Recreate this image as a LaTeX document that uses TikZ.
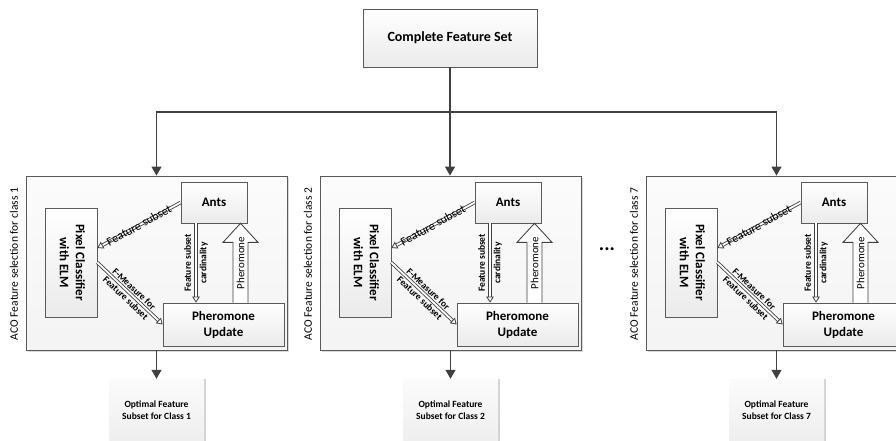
\documentclass[tikz,border=0pt]{standalone}
\usepackage{fontspec}
\setmainfont{Carlito}
\usetikzlibrary{arrows.meta,calc,shadows}

\definecolor{wiregray}{HTML}{404040}
\definecolor{framegray}{HTML}{5A5A5A}

\tikzset{
  shade box/.style={draw=framegray,line width=0.7pt,top color=white,bottom color=gray!16,
    drop shadow={shadow xshift=1.3pt,shadow yshift=-1.3pt,opacity=0.3},
    inner sep=0pt,align=center,font=\bfseries\fontsize{13}{16}\selectfont},
  panelbox/.style={draw=framegray,line width=0.8pt,top color=gray!3,bottom color=gray!9,
    drop shadow={shadow xshift=1.5pt,shadow yshift=-1.5pt,opacity=0.3},inner sep=0pt},
  outbox/.style={top color=gray!3,bottom color=gray!13,inner sep=0pt,
    drop shadow={shadow xshift=1.5pt,shadow yshift=0pt,opacity=0.35},
    align=center,font=\bfseries\fontsize{9.5}{11.5}\selectfont},
  wire/.style={draw=wiregray,line width=1.2pt},
  flow/.style={wire,-{Triangle[length=9pt,width=10pt]}},
  hollow/.style={draw=wiregray,line width=0.85pt,double=white,double distance=1.8pt,
    -{Triangle[open,fill=white,length=6pt,width=7.5pt,line width=0.8pt]}},
  blockline/.style={draw=wiregray,line width=0.85pt,fill=white,line join=miter},
  smalltext/.style={font=\bfseries\fontsize{9.5}{12.5}\selectfont,align=center},
}

\begin{document}
\begin{tikzpicture}[x=1pt,y=-1pt]
\useasboundingbox (0,0) rectangle (896,441);
\clip (0,0) rectangle (896,441);

\node[shade box,minimum width=174pt,minimum height=58pt,font=\bfseries\fontsize{14}{16}\selectfont] (top) at (450,38) {Complete Feature Set};

% one ACO block per class
\foreach \px/\cls in {26/1,320/2,646/7}{
\begin{scope}[xshift=\px pt]
\node[panelbox,minimum width=261pt,minimum height=174pt] (panel\cls) at (130.5,263) {};
\node[rotate=90,font=\fontsize{11.5}{13}\selectfont] (title\cls) at (-12,264) {ACO Feature selection for class \cls};
\node[shade box,minimum width=66pt,minimum height=41pt] (ants\cls) at (188,202.5) {Ants};
\node[shade box,minimum width=52pt,minimum height=109pt] (pix\cls) at (45,262.5) {\rotatebox{-90}{\begin{tabular}{@{}c@{}}Pixel Classifier\\with ELM\end{tabular}}};
\node[shade box,minimum width=121pt,minimum height=43pt] (upd\cls) at (197.5,324.5) {Pheromone\\Update};
\node[outbox,minimum width=95pt,minimum height=62pt] (out\cls) at (130.5,410) {Optimal Feature\\Subset for Class \cls};
%
\coordinate (fs\cls) at ($(pix\cls.east)+(0,-14.5)$);
\draw[hollow] (ants\cls.west) -- (fs\cls) node[midway,sloped,font=\fontsize{12}{14}\selectfont] {Feature subset};
\draw[hollow] (pix\cls.east) -- (upd\cls.west) node[midway,sloped,smalltext] {F-Measure for\\Feature subset};
\coordinate (card\cls) at ($(ants\cls.south)+(-18,0)$);
\draw[hollow] (card\cls) -- (card\cls |- upd\cls.north) node[midway,rotate=90,smalltext] {Feature subset\\[3pt]cardinality};
% hollow block arrow, update back to the ants
\coordinate (ph\cls) at ($(upd\cls.north)+(17,0)$);
\coordinate (phtip\cls) at (ph\cls |- ants\cls.south);
\draw[blockline] ($(ph\cls)+(-7.5,0)$) -- ($(phtip\cls)+(-7.5,19)$) -- ($(phtip\cls)+(-17.5,19)$) -- (phtip\cls)
  -- ($(phtip\cls)+(17.5,19)$) -- ($(phtip\cls)+(7.5,19)$) -- ($(ph\cls)+(7.5,0)$);
\node[rotate=90,font=\fontsize{11}{13}\selectfont] (phlabel\cls) at ($(ph\cls)!0.5!(phtip\cls)$) {Pheromone};
\draw[flow] (panel\cls.south) -- (out\cls.north);
\end{scope}
}

\node[font=\bfseries\fontsize{20}{22}\selectfont] (dots) at (607,249) {...};

% split of the complete set
\coordinate (split) at (top.south |- 0,112);
\draw[wire] (top) -- (split);
\draw[flow] (split) -| (panel1.north);
\draw[flow] (split) -- (split |- panel2.north);
\draw[flow] (split) -| (panel7.north);
\end{tikzpicture}
\end{document}
